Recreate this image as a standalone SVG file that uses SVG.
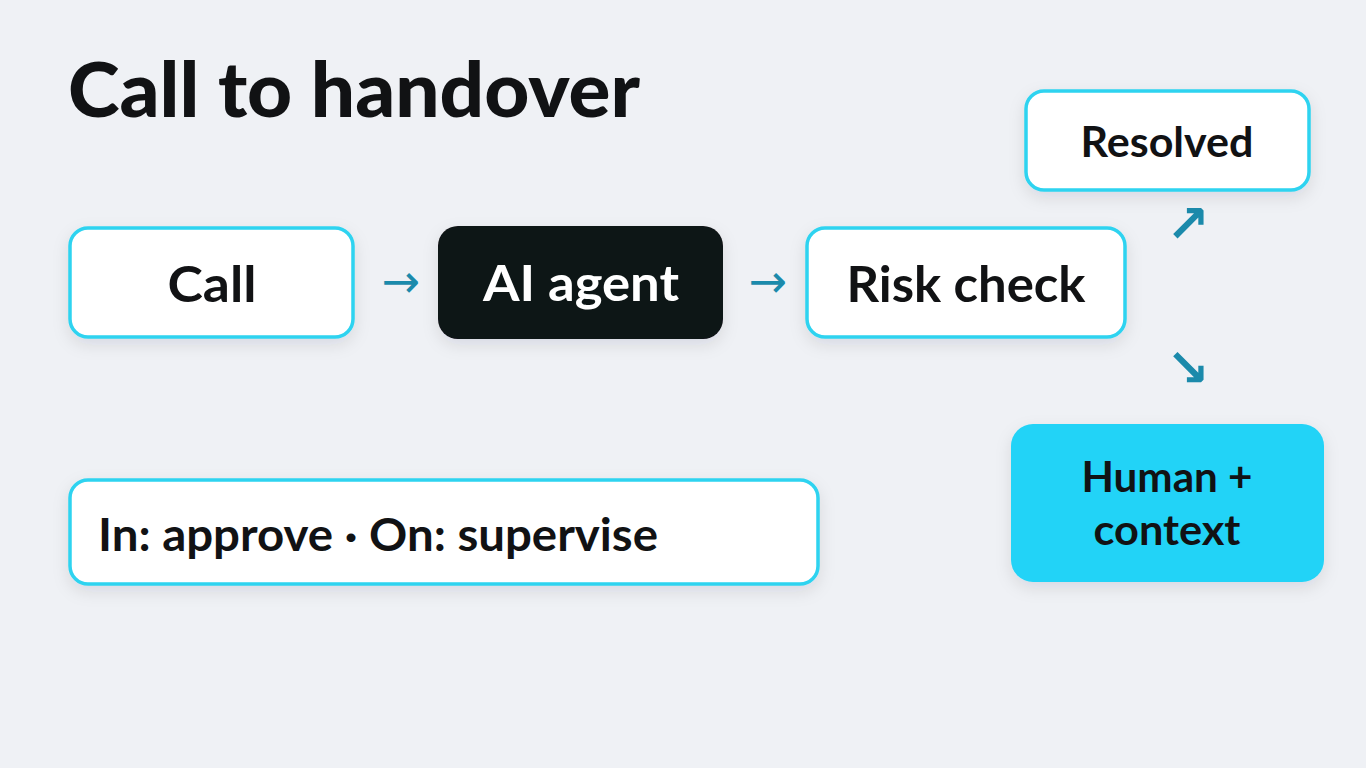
<svg xmlns="http://www.w3.org/2000/svg" width="1366" height="768" viewBox="0 0 1366 768">
<defs>
<filter id="sh" x="-20%" y="-30%" width="140%" height="170%">
<feDropShadow dx="0" dy="6" stdDeviation="8" flood-color="#1a2030" flood-opacity="0.10"/>
</filter>
<style>
.box{fill:#ffffff;stroke:#2ed3f0;stroke-width:3.5;filter:url(#sh)}
.dark{fill:#111214;filter:url(#sh)}
.cyan{fill:#22d3f7;filter:url(#sh)}
.t{font-family:Lato,"Noto Sans",sans-serif;font-weight:700;fill:#111214;text-anchor:middle}
.w{fill:#ffffff}
.arr{font-family:"DejaVu Sans",sans-serif;fill:#1b8aab;text-anchor:middle}
</style>
</defs>
<rect width="1366" height="768" fill="#eff1f5"/>
<text x="68" y="117" font-family="Lato,'Noto Sans',sans-serif" font-weight="900" font-size="76" fill="#111214" textLength="572" lengthAdjust="spacingAndGlyphs">Call to handover</text>
<g id="connectors">
<text class="arr" x="401" y="297" font-size="46">→</text>
<text class="arr" x="768" y="297" font-size="46">→</text>
<text class="arr" x="1188" y="242" font-size="52" font-weight="700">↗</text>
<text class="arr" x="1188" y="386" font-size="52" font-weight="700">↘</text>
</g>
<g id="call">
<rect class="box" x="70" y="228" width="283" height="109" rx="18"/>
<text class="t" x="212" y="302" font-size="50" textLength="89" lengthAdjust="spacingAndGlyphs">Call</text>
</g>
<g id="ai-agent">
<rect class="dark" x="438" y="226" width="285" height="113" rx="20"/>
<text class="t w" x="581" y="301" font-size="50" textLength="196" lengthAdjust="spacingAndGlyphs">AI agent</text>
</g>
<g id="risk-check">
<rect class="box" x="807" y="228" width="318" height="109" rx="18"/>
<text class="t" x="966" y="302" font-size="50" textLength="239" lengthAdjust="spacingAndGlyphs">Risk check</text>
</g>
<g id="resolved">
<rect class="box" x="1026" y="91" width="283" height="99" rx="18"/>
<text class="t" x="1167" y="157" font-size="42" textLength="173" lengthAdjust="spacingAndGlyphs">Resolved</text>
</g>
<g id="human-context">
<rect class="cyan" x="1011" y="424" width="313" height="158" rx="22"/>
<text class="t" x="1167" y="492" font-size="42" textLength="171" lengthAdjust="spacingAndGlyphs">Human +</text>
<text class="t" x="1167" y="545" font-size="42" textLength="147" lengthAdjust="spacingAndGlyphs">context</text>
</g>
<g id="modes">
<rect class="box" x="70" y="480" width="748" height="104" rx="18"/>
<text class="t" x="98" y="551" font-size="46" style="text-anchor:start" textLength="560" lengthAdjust="spacingAndGlyphs">In: approve · On: supervise</text>
</g>
</svg>
